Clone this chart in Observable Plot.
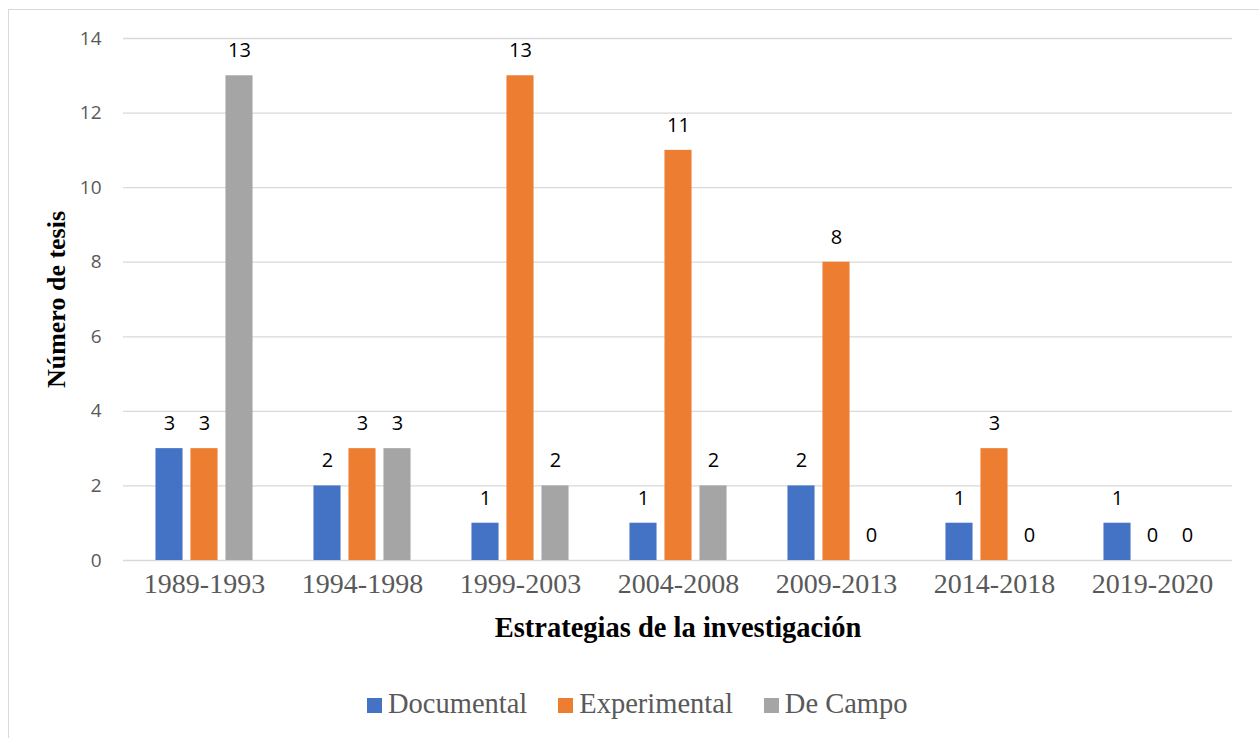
<!DOCTYPE html>
<html>
<head>
<meta charset="utf-8">
<script src="https://cdn.jsdelivr.net/npm/d3@7"></script>
<script src="https://cdn.jsdelivr.net/npm/@observablehq/plot@0.6"></script>
<style>
  html, body { margin: 0; padding: 0; background: #fff; overflow: hidden; }
  #wrap { position: relative; width: 1259px; height: 738px; }
  #border { position: absolute; left: 8px; top: 9px; width: 1300px; height: 800px; border: 1px solid #d9d9d9; box-sizing: border-box; pointer-events: none; }
  #chart { position: absolute; left: 0; top: 0; }
  #legend { position: absolute; left: 367px; top: 684px; height: 40px; display: flex; align-items: center;
    font-family: "Liberation Serif", "Times New Roman", serif; font-size: 28.5px; color: #595959; }
  .item { display: flex; align-items: center; margin-right: 31px; }
  .sw { width: 15px; height: 15px; margin-right: 6px; margin-top: 3px; }
</style>
</head>
<body>
<div id="wrap">
  <div id="border"></div>
  <div id="chart"></div>
  <div id="legend"></div>
</div>
<script>
const periods = ["1989-1993", "1994-1998", "1999-2003", "2004-2008", "2009-2013", "2014-2018", "2019-2020"];
const documental = [3, 2, 1, 1, 2, 1, 1];
const experimental = [3, 3, 13, 11, 8, 3, 0];
const deCampo = [13, 3, 2, 2, 0, 0, 0];
const seriesNames = ["Documental", "Experimental", "De Campo"];
const seriesColors = ["#4472C4", "#ED7D31", "#A5A5A5"];
const yTicks = [0, 2, 4, 6, 8, 10, 12, 14];
const xTitle = "Estrategias de la investigación";
const yTitle = "Número de tesis";

const seriesValues = [documental, experimental, deCampo];

const W = 1259, H = 665, mL = 123, mR = 27, mT = 38, mB = 105;
const band = (W - mL - mR) / periods.length;
const barW = 27.5, step = 35;
const inset = (band - barW) / 2;

const marks = [
  Plot.ruleY(yTicks, {stroke: "#d9d9d9", strokeWidth: 1.3})
];
seriesValues.forEach((vals, s) => {
  const rows = periods.map((p, i) => ({period: p, value: vals[i]}));
  const off = (s - 1) * step;
  marks.push(Plot.barY(rows, {x: "period", y: "value", fill: seriesColors[s], insetLeft: inset, insetRight: inset, dx: off}));
  marks.push(Plot.text(rows, {x: "period", y: "value", text: d => String(d.value), dx: off, dy: -25,
    fill: "#000", fontSize: 20, fontFamily: "'Open Sans', sans-serif"}));
});
// y tick labels
marks.push(Plot.text(yTicks, {y: d => d, frameAnchor: "left", dx: -22, textAnchor: "end", text: d => String(d),
  fill: "#595959", fontSize: 19, fontFamily: "'Open Sans', sans-serif"}));
// x tick labels
marks.push(Plot.text(periods, {x: d => d, frameAnchor: "bottom", dy: 32.5, text: d => d,
  fill: "#595959", fontSize: 28, fontFamily: "'Liberation Serif', 'Times New Roman', serif"}));
// x title
marks.push(Plot.text([xTitle], {frameAnchor: "bottom", dy: 76, text: d => d, fill: "#000", fontWeight: "bold",
  fontSize: 28.5, fontFamily: "'Liberation Serif', 'Times New Roman', serif"}));
// y title
marks.push(Plot.text([yTitle], {frameAnchor: "left", dx: -67, rotate: -90, textAnchor: "middle", text: d => d, fill: "#000", fontWeight: "bold",
  fontSize: 26, fontFamily: "'Liberation Serif', 'Times New Roman', serif"}));

const chart = Plot.plot({
  width: W, height: H,
  marginLeft: mL, marginRight: mR, marginTop: mT, marginBottom: mB,
  x: {domain: periods, padding: 0, axis: null},
  y: {domain: [0, 14], axis: null},
  style: {background: "transparent", overflow: "visible"},
  marks
});
document.getElementById("chart").appendChild(chart);

const legend = document.getElementById("legend");
seriesNames.forEach((n, i) => {
  const it = document.createElement("div");
  it.className = "item";
  const sw = document.createElement("div");
  sw.className = "sw";
  sw.style.background = seriesColors[i];
  const t = document.createElement("span");
  t.textContent = n;
  it.appendChild(sw); it.appendChild(t);
  legend.appendChild(it);
});
</script>
</body>
</html>
